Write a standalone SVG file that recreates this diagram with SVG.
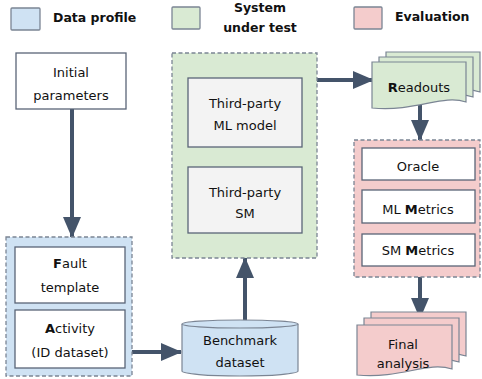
<svg xmlns="http://www.w3.org/2000/svg" width="482" height="379" viewBox="0 0 482 379">
<style>
text{font-family:"DejaVu Sans","Liberation Sans",sans-serif;font-size:13px;fill:#111;text-anchor:middle}
.lg{font-weight:bold;text-anchor:start;font-size:12.5px}
.b{font-weight:bold}
.blue{fill:#cfe2f3}
.green{fill:#d9ead3}
.pink{fill:#f4cccc}
.cont{stroke:#7b8594;stroke-width:1.3;stroke-dasharray:4 2.5}
.sq{stroke:#7b8594;stroke-width:1.3}
.box{fill:#fff;stroke:#5a6577;stroke-width:1.3}
.gbox{fill:#f3f3f3;stroke:#5a6577;stroke-width:1.3}
.doc{stroke:#7b8594;stroke-width:1.2}
.conn{stroke:#44546a;stroke-width:4;fill:none}
</style>
<defs>
<marker id="ah" markerUnits="userSpaceOnUse" markerWidth="22" markerHeight="20" refX="20" refY="9" orient="auto">
<path d="M0,0 L21,9 L0,18 Z" fill="#44546a"/>
</marker>
<path id="docR" d="M0,0 H94 V40 C70,32 45,50 0,46 Z"/>
<path id="docF" d="M0,0 H95 V44 C70,36 45,54 0,50 Z"/>
</defs>
<g id="legend">
<rect class="blue sq" x="11" y="8" width="29" height="22" rx="1"/>
<text class="lg" x="53" y="22">Data profile</text>
<rect class="green sq" x="172" y="7" width="28" height="22" rx="1"/>
<text class="b" x="260" y="12" style="font-size:12.5px">System</text>
<text class="b" x="260" y="32" style="font-size:12.5px">under test</text>
<rect class="pink sq" x="354" y="7" width="28" height="22" rx="1"/>
<text class="lg" x="395" y="21">Evaluation</text>
</g>
<g id="connectors">
<line class="conn" x1="72" y1="109" x2="72" y2="237" marker-end="url(#ah)"/>
<line class="conn" x1="132" y1="352" x2="181" y2="352" marker-end="url(#ah)"/>
<line class="conn" x1="245" y1="321" x2="245" y2="258" marker-end="url(#ah)"/>
<line class="conn" x1="317" y1="80" x2="373" y2="80" marker-end="url(#ah)"/>
<line class="conn" x1="420" y1="104" x2="420" y2="140" marker-end="url(#ah)"/>
<line class="conn" x1="420" y1="277" x2="420" y2="318" marker-end="url(#ah)"/>
</g>
<g id="initial-parameters">
<rect class="box" x="16" y="53" width="110" height="56"/>
<text x="71" y="77">Initial</text>
<text x="71" y="100">parameters</text>
</g>
<g id="data-profile">
<rect class="blue cont" x="6" y="237" width="126" height="139"/>
</g>
<g id="fault-template">
<rect class="box" x="15" y="247" width="110" height="56"/>
<text x="70" y="268"><tspan class="b">F</tspan>ault</text>
<text x="70" y="292">template</text>
</g>
<g id="activity">
<rect class="box" x="15" y="310" width="110" height="58"/>
<text x="70" y="333"><tspan class="b">A</tspan>ctivity</text>
<text x="70" y="357">(ID dataset)</text>
</g>
<g id="system-under-test">
<rect class="green cont" x="172" y="53" width="145" height="205"/>
</g>
<g id="ml-model">
<rect class="gbox" x="188" y="78" width="114" height="69"/>
<text x="245" y="108">Third-party</text>
<text x="245" y="130">ML model</text>
</g>
<g id="sm">
<rect class="gbox" x="188" y="167" width="114" height="66"/>
<text x="245" y="197">Third-party</text>
<text x="245" y="218">SM</text>
</g>
<g id="benchmark-dataset">
<path class="blue doc" d="M182,324 V371 A58,5 0 0 0 298,371 V324"/>
<ellipse class="blue doc" cx="240" cy="324" rx="58" ry="4"/>
<text x="240" y="345">Benchmark</text>
<text x="240" y="367">dataset</text>
</g>
<g id="readouts">
<use href="#docR" class="green doc" x="386" y="52"/>
<use href="#docR" class="green doc" x="379" y="57"/>
<use href="#docR" class="green doc" x="372" y="62"/>
<text x="419" y="92"><tspan class="b">R</tspan>eadouts</text>
</g>
<g id="evaluation">
<rect class="pink cont" x="354" y="140" width="126" height="137"/>
</g>
<g id="oracle">
<rect class="box" x="362" y="148" width="113" height="32"/>
<text x="418" y="171">Oracle</text>
</g>
<g id="ml-metrics">
<rect class="box" x="362" y="190" width="113" height="33"/>
<text x="418" y="214">ML <tspan class="b">M</tspan>etrics</text>
</g>
<g id="sm-metrics">
<rect class="box" x="362" y="234" width="113" height="32"/>
<text x="418" y="255">SM <tspan class="b">M</tspan>etrics</text>
</g>
<g id="final-analysis">
<use href="#docF" class="pink doc" x="371" y="312"/>
<use href="#docF" class="pink doc" x="364" y="318"/>
<use href="#docF" class="pink doc" x="357" y="325"/>
<text x="403" y="349">Final</text>
<text x="403" y="368">analysis</text>
</g>
</svg>
